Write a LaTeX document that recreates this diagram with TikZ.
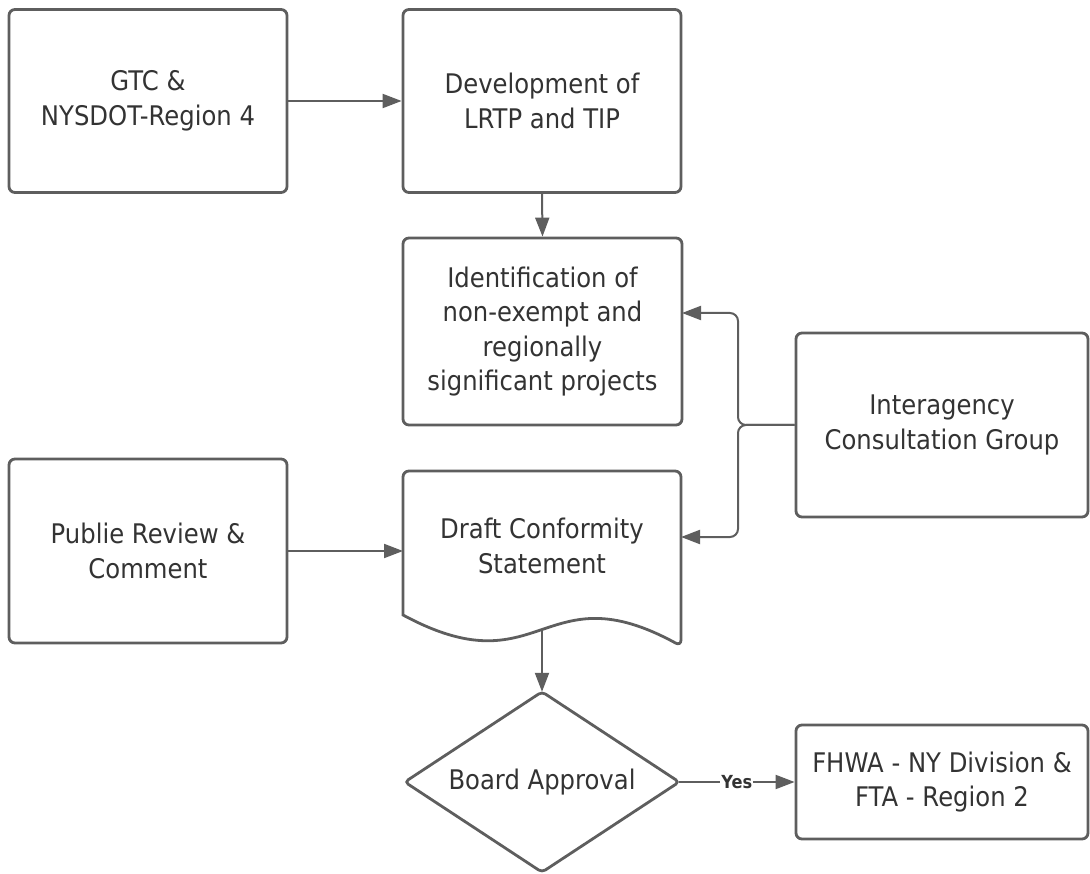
\documentclass[tikz,border=0pt]{standalone}
\usepackage{fontspec}
\setmainfont{DejaVu Sans}[FakeStretch=0.9]
\usetikzlibrary{arrows.meta}
\definecolor{ln}{HTML}{5E5E5E}
\definecolor{tx}{HTML}{333333}
\begin{document}
\begin{tikzpicture}[x=1pt,y=-1pt,
  box/.style={draw=ln, line width=2.8pt, rounded corners=6pt, fill=white, align=center, text=tx,
    font=\fontsize{27}{34.5}\selectfont, inner sep=0pt},
  txt/.style={align=center, text=tx, font=\fontsize{27}{34.5}\selectfont, inner sep=0pt},
  arr/.style={draw=ln, line width=2pt, -{Triangle[length=19pt,width=14pt]}},
  lbl/.style={fill=white, text=tx, font=\bfseries\fontsize{18}{21}\selectfont, inner sep=1pt}]
\useasboundingbox (0,0) rectangle (1090,874);
% boxes
\node[box, minimum width=278pt, minimum height=183pt] (gtc) at (148,101) {GTC \&\\NYSDOT-Region 4};
\node[box, minimum width=278pt, minimum height=183pt] (dev) at (542,101) {Development of\\LRTP and TIP};
\node[box, minimum width=279pt, minimum height=187pt] (ident) at (542.5,331.5) {Identification of\\non-exempt and\\regionally\\significant projects};
\node[box, minimum width=292pt, minimum height=184pt] (inter) at (942,425) {Interagency\\Consultation Group};
\node[box, minimum width=278pt, minimum height=184pt] (pub) at (148,551) {Publie Review \&\\Comment};
\node[box, minimum width=292pt, minimum height=114pt] (fhwa) at (942,782) {FHWA - NY Division \&\\FTA - Region 2};
% document shape
\draw[draw=ln, line width=2.8pt, fill=white, rounded corners=6pt]
  (403,615) -- (403,471) -- (681,471) -- (681,646) [sharp corners]
  .. controls (542,570) and (542,690) .. (403,615) -- cycle;
\node[txt] (draft) at (542,546) {Draft Conformity\\Statement};
% diamond
\node[txt, minimum width=274pt, minimum height=180pt] (board) at (542,782) {Board Approval};
\draw[draw=ln, line width=2.8pt, rounded corners=4pt]
  (board.north) -- (board.east) -- (board.south) -- (board.west) -- cycle;
% coordinates
\coordinate (junc) at (738,425);
\coordinate (identin) at (682,313);
\coordinate (draftin) at (681,537);
\coordinate (draftleft) at (403,551);
\coordinate (draftbot) at (542,630);
% connectors
\draw[arr] (gtc.east) -- (dev.west);
\draw[arr] (dev.south) -- (ident.north);
\draw[arr, rounded corners=8pt] (inter.west) -- (junc) |- (identin);
\draw[arr, rounded corners=8pt] (inter.west) -- (junc) |- (draftin);
\draw[arr] (pub.east) -- (draftleft);
\draw[arr] (draftbot) -- (board.north);
\draw[arr] (board.east) -- node[lbl] {Yes} (fhwa.west);
\end{tikzpicture}
\end{document}
